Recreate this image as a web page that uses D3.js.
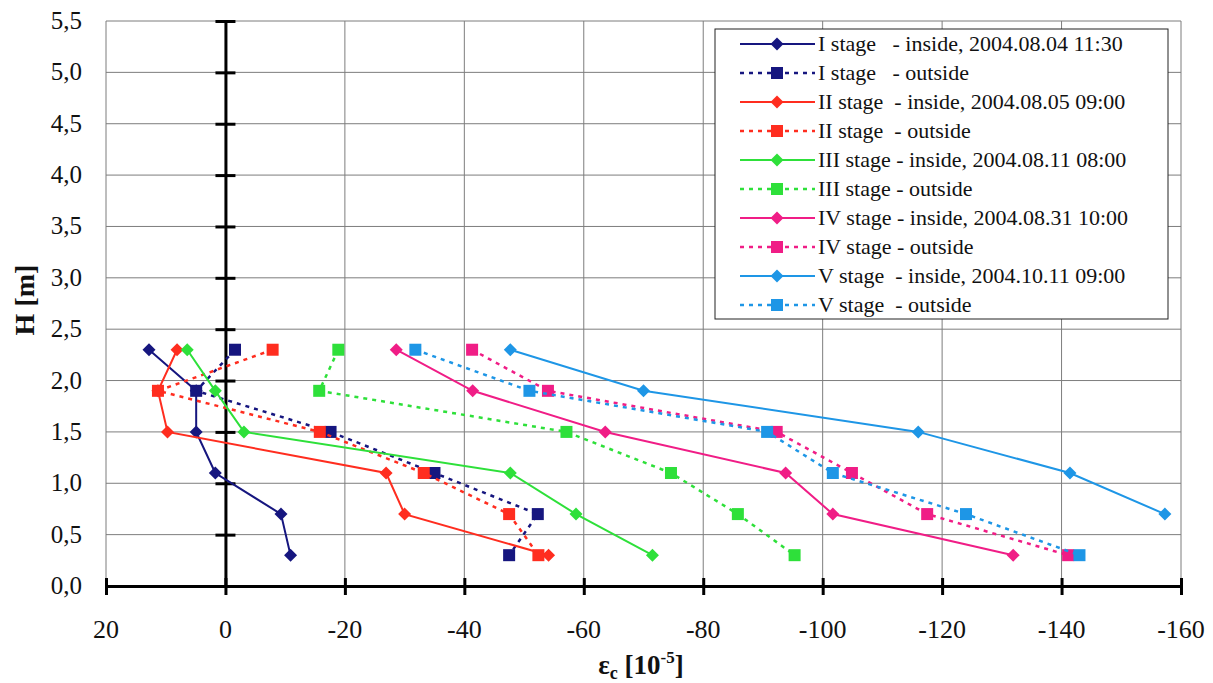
<!DOCTYPE html>
<html>
<head>
<meta charset="utf-8">
<script src="https://cdn.jsdelivr.net/npm/d3@7"></script>
<style>
  body { margin: 0; background: #fff; }
  text { font-family: "Liberation Serif"; }
</style>
</head>
<body>
<script>
// depth levels (m) and strain readings [10^-5] per stage
var heights = [2.3, 1.9, 1.5, 1.1, 0.7, 0.3];

var s1In  = [12.8, 4.9, 4.9, 1.7, -9.3, -10.9];
var s1Out = [-1.6, 4.9, -17.6, -35.0, -52.3, -47.5];
var s2In  = [8.1, 11.3, 9.7, -26.9, -30.0, -54.1];
var s2Out = [-7.9, 11.3, -15.8, -33.2, -47.5, -52.4];
var s3In  = [6.4, 1.7, -3.1, -47.7, -58.7, -71.5];
var s3Out = [-18.9, -15.7, -57.1, -74.6, -85.8, -95.3];
var s4In  = [-28.6, -41.4, -63.6, -93.8, -101.7, -131.9];
var s4Out = [-41.3, -54.0, -92.3, -104.9, -117.5, -141.1];
var s5In  = [-47.7, -70.0, -116.0, -141.4, -157.3];
var s5Out = [-31.8, -50.9, -90.7, -101.7, -124.0, -143.0];

var labels = [
  "I stage   - inside, 2004.08.04 11:30",
  "I stage   - outside",
  "II stage  - inside, 2004.08.05 09:00",
  "II stage  - outside",
  "III stage - inside, 2004.08.11 08:00",
  "III stage - outside",
  "IV stage - inside, 2004.08.31 10:00",
  "IV stage - outside",
  "V stage  - inside, 2004.10.11 09:00",
  "V stage  - outside"
];
var stageColors = ["#16167f", "#ff2d1f", "#2ee03a", "#f01d86", "#1e96e6"];

var xTicks = [20, 0, -20, -40, -60, -80, -100, -120, -140, -160];
var yTicks = [0, 0.5, 1, 1.5, 2, 2.5, 3, 3.5, 4, 4.5, 5, 5.5];

var series = [
  {vals: s1In,  color: stageColors[0], out: false},
  {vals: s1Out, color: stageColors[0], out: true},
  {vals: s2In,  color: stageColors[1], out: false},
  {vals: s2Out, color: stageColors[1], out: true},
  {vals: s3In,  color: stageColors[2], out: false},
  {vals: s3Out, color: stageColors[2], out: true},
  {vals: s4In,  color: stageColors[3], out: false},
  {vals: s4Out, color: stageColors[3], out: true},
  {vals: s5In,  color: stageColors[4], out: false},
  {vals: s5Out, color: stageColors[4], out: true}
];

var serif = "Liberation Serif";

var svg = d3.select('body').append('svg')
  .attr("width", 1213)
  .attr("height", 683);

var x = d3.scaleLinear().domain([20, -160]).range([106, 1181]);
var y = d3.scaleLinear().domain([0, 5.5]).range([586, 21]);

var fmt = function(d) { return d3.format(".1f")(d).replace(".", ","); };

// grid
svg.append("g").selectAll("line").data(yTicks).enter().append("line")
  .attr("x1", x(20)).attr("x2", x(-160))
  .attr("y1", function(d) { return y(d); }).attr("y2", function(d) { return y(d); })
  .attr("stroke", "#7d7d7d").attr("stroke-width", 1);
svg.append("g").selectAll("line").data(xTicks).enter().append("line")
  .attr("x1", function(d) { return x(d); }).attr("x2", function(d) { return x(d); })
  .attr("y1", y(0)).attr("y2", y(5.5))
  .attr("stroke", "#7d7d7d").attr("stroke-width", 1);

// y tick labels, drawn as plain texts at the left edge
svg.append("g").selectAll("text").data(yTicks).enter().append("text")
  .attr("x", x(20) - 24)
  .attr("y", function(d) { return y(d) + 8; })
  .attr("text-anchor", "end")
  .attr("font-family", serif).attr("font-size", 25).attr("fill", "#111")
  .text(fmt);

// vertical zero axis with crossing ticks
var yAx = svg.append("g").attr("transform", "translate(" + x(0) + ",0)")
  .call(d3.axisLeft(y).tickValues(yTicks).tickFormat("").tickSizeOuter(0).tickSizeInner(10));
yAx.select(".domain").attr("stroke", "#000").attr("stroke-width", 3);
yAx.selectAll(".tick line").attr("x1", -10).attr("x2", 10).attr("stroke", "#000").attr("stroke-width", 3);

// bottom axis line and ticks
var xAx = svg.append("g").attr("transform", "translate(0," + y(0) + ")")
  .call(d3.axisBottom(x).tickValues(xTicks).tickFormat("").tickSizeOuter(0).tickSizeInner(9));
xAx.select(".domain").attr("stroke", "#000").attr("stroke-width", 3);
xAx.selectAll(".tick line").attr("y1", -8).attr("stroke", "#000").attr("stroke-width", 3);

// x tick labels
svg.append("g").selectAll("text").data(xTicks).enter().append("text")
  .attr("x", function(d) { return x(d); })
  .attr("y", 638)
  .attr("text-anchor", "middle")
  .attr("font-family", serif).attr("font-size", 26).attr("fill", "#111")
  .text(function(d) { return d; });

// axis titles
svg.append("text")
  .attr("x", 641).attr("y", 674)
  .attr("text-anchor", "middle")
  .attr("font-family", serif).attr("font-size", 27).attr("font-weight", "bold")
  .attr("fill", "#111")
  .html('ε<tspan font-size="18" dy="5">c</tspan><tspan dy="-5"> [10</tspan><tspan font-size="17" dy="-11">-5</tspan><tspan dy="11">]</tspan>');

svg.append("text")
  .attr("transform", "translate(34,300) rotate(-90)")
  .attr("text-anchor", "middle")
  .attr("font-family", serif).attr("font-size", 28).attr("font-weight", "bold")
  .attr("fill", "#111")
  .text("H [m]");

// series
var line = d3.line()
  .x(function(d) { return x(d[0]); })
  .y(function(d) { return y(d[1]); });

function drawMarker(g, out, color, cx, cy) {
  if (out) {
    g.append("rect").attr("x", cx - 6).attr("y", cy - 6).attr("width", 12).attr("height", 12)
      .attr("fill", color);
  } else {
    g.append("path").attr("d", "M" + cx + "," + (cy - 6.5) + "L" + (cx + 6.5) + "," + cy +
        "L" + cx + "," + (cy + 6.5) + "L" + (cx - 6.5) + "," + cy + "Z")
      .attr("fill", color);
  }
}

series.forEach(function(s) {
  var pts = s.vals.map(function(v, i) { return [v, heights[i]]; });
  var g = svg.append("g");
  g.append("path").datum(pts)
    .attr("d", line)
    .attr("fill", "none")
    .attr("stroke", s.color)
    .attr("stroke-width", s.out ? 2.5 : 2)
    .attr("stroke-dasharray", s.out ? "4,5" : null);
  pts.forEach(function(p) { drawMarker(g, s.out, s.color, x(p[0]), y(p[1])); });
});

// legend
var leg = svg.append("g");
leg.append("rect").attr("x", 715).attr("y", 29).attr("width", 453).attr("height", 290)
  .attr("fill", "#fff").attr("stroke", "#222").attr("stroke-width", 1);

series.forEach(function(s, i) {
  var ly = 44 + i * 29;
  leg.append("line").attr("x1", 740).attr("x2", 815).attr("y1", ly).attr("y2", ly)
    .attr("stroke", s.color).attr("stroke-width", s.out ? 2.5 : 2)
    .attr("stroke-dasharray", s.out ? "4,5" : null);
  drawMarker(leg, s.out, s.color, 777, ly);
  leg.append("text").attr("x", 818).attr("y", ly + 7)
    .attr("fill", "#111")
    .attr("font-family", serif).attr("font-size", 22)
    .attr("xml:space", "preserve")
    .style("white-space", "pre")
    .text(labels[i]);
});
</script>
</body>
</html>
